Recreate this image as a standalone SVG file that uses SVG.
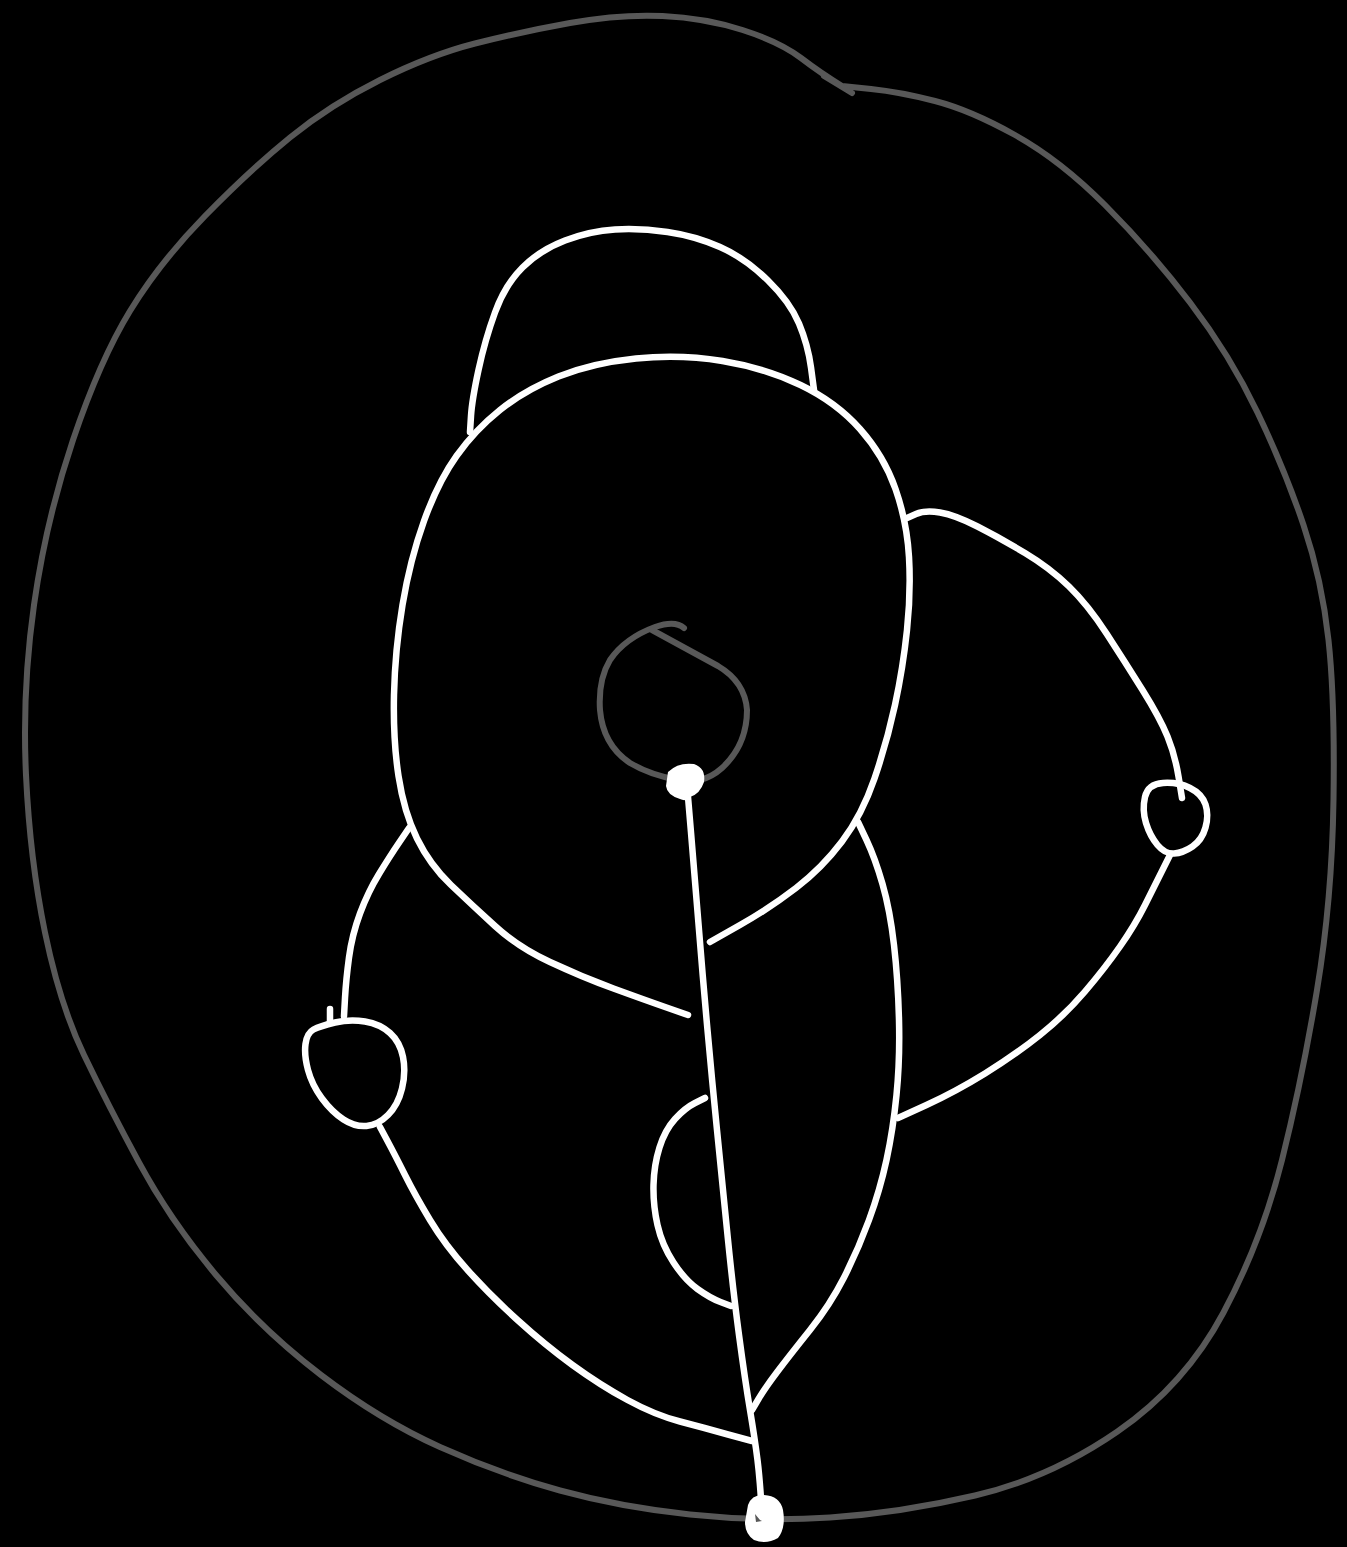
<svg xmlns="http://www.w3.org/2000/svg" width="1347" height="1547" viewBox="0 0 1347 1547">
<style>
.g{fill:none;stroke:#585858;stroke-width:6;stroke-linecap:round;stroke-linejoin:round}
.w{fill:none;stroke:#fff;stroke-width:6.5;stroke-linecap:round;stroke-linejoin:round}
.dot{fill:#fff}
</style>
<rect width="1347" height="1547" fill="#000"/>
<g id="outer">
<path class="g" d="M 842 86 L 871 89 Q 900 92 935 101 Q 970 110 1015 135 Q 1060 160 1105 205 Q 1150 250 1190 302.5 Q 1230 355 1257.5 412.5 Q 1285 470 1303.5 525 Q 1322 580 1328.5 640 Q 1335 700 1333.5 800 Q 1332 900 1317 990 Q 1302 1080 1282 1160 Q 1262 1240 1223.5 1312.5 Q 1185 1385 1117.5 1431.5 Q 1050 1478 975 1495.5 Q 900 1513 830 1517.5 Q 760 1522 690 1514.5 Q 620 1507 560 1490.5 Q 500 1474 440 1447 Q 380 1420 321 1375 Q 262 1330 216 1275 Q 170 1220 139 1162.5 Q 108 1105 84 1055 Q 60 1005 45 932.5 Q 30 860 26 775 Q 22 690 34 605 Q 46 520 73 440 Q 100 360 130 311 Q 160 262 205 216 Q 250 170 290 137.5 Q 330 105 380 80 Q 430 55 475 43.5 Q 520 32 570 23 Q 620 14 662.5 16 Q 705 18 742.5 30 Q 780 42 801 58 Q 822 74 842 86"/>
<path class="g" d="M 824 76 L 852 93"/>
</g>
<g id="center-loop">
<path class="g" d="M 684 628 Q 675 620 655 627 Q 625 638 610 660 Q 598 680 600 710 Q 603 745 630 763 Q 650 775 678 780"/>
<path class="g" d="M 652 630 L 718 666 Q 745 682 747 710 Q 747 745 722 768 Q 712 777 700 780"/>
</g>
<g id="body">
<path class="w" d="M 688 1015 L 666.5 1007.5 Q 645 1000 613.5 988.5 Q 582 977 550 962 Q 518 947 495 926 Q 472 905 451 885 Q 430 865 417 838.5 Q 404 812 398.5 776 Q 393 740 394 695 Q 395 650 402.5 605 Q 410 560 424 521 Q 438 482 456.5 456 Q 475 430 500 410 Q 525 390 558.5 376.5 Q 592 363 636 358.5 Q 680 354 722.5 361 Q 765 368 800.5 385 Q 836 402 860 429 Q 884 456 895.5 489 Q 907 522 909 557 Q 911 592 907 630 Q 903 668 895 705 Q 887 742 874.5 778.5 Q 862 815 842 841.5 Q 822 868 796 888 Q 770 908 740 925 L 710 942"/>
</g>
<g id="top-arc">
<path class="w" d="M 470 432 L 471 416 Q 472 400 478.5 370 Q 485 340 495 312.5 Q 505 285 522.5 267.5 Q 540 250 565 240.5 Q 590 231 615 229.5 Q 640 228 667.5 232 Q 695 236 720 247 Q 745 258 767.5 280 Q 790 302 799 323.5 Q 808 345 811 367.5 L 814 390"/>
</g>
<g id="right-lobe">
<path class="w" d="M 907 518 L 916 514 Q 925 510 940 512.5 Q 955 515 977.5 526.5 Q 1000 538 1025 553 Q 1050 568 1069 586.5 Q 1088 605 1106.5 633.5 Q 1125 662 1142.5 690 Q 1160 718 1167.5 736.5 Q 1175 755 1178.5 776.5 L 1182 798"/>
<path class="w" d="M 1163 783 Q 1178 782 1190 788 Q 1202 794 1205.5 804.5 Q 1209 815 1205.5 827.5 Q 1202 840 1192.5 846.5 Q 1183 853 1174 853.5 Q 1165 854 1157.5 845 Q 1150 836 1146 823 Q 1142 810 1145 797 Q 1148 784 1163 783 Z"/>
<path class="w" d="M 1170 855 L 1162.5 870 Q 1155 885 1145 905 Q 1135 925 1120 946.5 Q 1105 968 1085 991.5 Q 1065 1015 1040 1035 Q 1015 1055 985 1073.5 Q 955 1092 926.5 1105 L 898 1118"/>
</g>
<g id="right-strand">
<path class="w" d="M 858 822 L 866.5 840 Q 875 858 882.5 884 Q 890 910 894 945 Q 898 980 899 1020 Q 900 1060 896.5 1095 Q 893 1130 886.5 1160 Q 880 1190 869 1220 Q 858 1250 844 1277.5 Q 830 1305 810 1330 Q 790 1355 777.5 1371.5 Q 765 1388 758.5 1399 L 752 1410"/>
</g>
<g id="left-lobe">
<path class="w" d="M 409 828 L 399.5 842 Q 390 856 379 874 Q 368 892 360 913.5 Q 352 935 349 957.5 Q 346 980 345 998 L 344 1016"/>
<path class="w" d="M 335 1022.5 Q 350 1019 365 1021.5 Q 380 1024 390 1033 Q 400 1042 403 1057 Q 406 1072 402 1088.5 Q 398 1105 388 1115 Q 378 1125 366.5 1126 Q 355 1127 343.5 1119.5 Q 332 1112 322 1098.5 Q 312 1085 308 1070 Q 304 1055 305.5 1044 Q 307 1033 313.5 1029.5 Q 320 1026 335 1022.5 Z"/>
<path class="w" d="M 330 1009 L 330 1023"/>
<path class="w" d="M 380 1127 L 387.5 1141 Q 395 1155 405 1175 Q 415 1195 430 1220 Q 445 1245 467.5 1270 Q 490 1295 517.5 1320 Q 545 1345 572.5 1365 Q 600 1385 627.5 1400 Q 655 1415 680 1421.5 Q 705 1428 728 1434.5 L 752 1441"/>
</g>
<g id="inner-arc">
<path class="w" d="M 705 1098 L 695 1103 Q 685 1108 675 1119 Q 665 1130 659.5 1147.5 Q 654 1165 653.5 1185 Q 653 1205 657.5 1225 Q 662 1245 673.5 1262.5 Q 685 1280 697.5 1289 Q 710 1298 720.5 1302 L 731 1306"/>
</g>
<g id="connectors">
<path class="w" d="M 687 785 L 691 832.5 Q 695 880 699 930 Q 703 980 707.5 1030 Q 712 1080 717 1130 Q 722 1180 727.5 1235 Q 733 1290 739 1335 Q 745 1380 750 1410 Q 755 1440 757.5 1460 Q 760 1480 762 1515"/>
</g>
<g id="top-dot">
<path class="dot" d="M 668 772 Q 678 762 694 764 Q 706 768 704 782 Q 700 794 690 797 Q 686 802 680 799 Q 667 795 666 786 Z"/>
</g>
<g id="bottom-dot">
<path class="dot" d="M 748 1505 Q 752 1494 764 1495 Q 780 1496 783 1510 Q 786 1528 778 1538 Q 766 1545 754 1540 Q 745 1534 745 1522 Z"/>
<path fill="#585858" d="M 755 1514 L 760 1520 L 762 1521 L 756 1522 Z"/>
</g>
</svg>
